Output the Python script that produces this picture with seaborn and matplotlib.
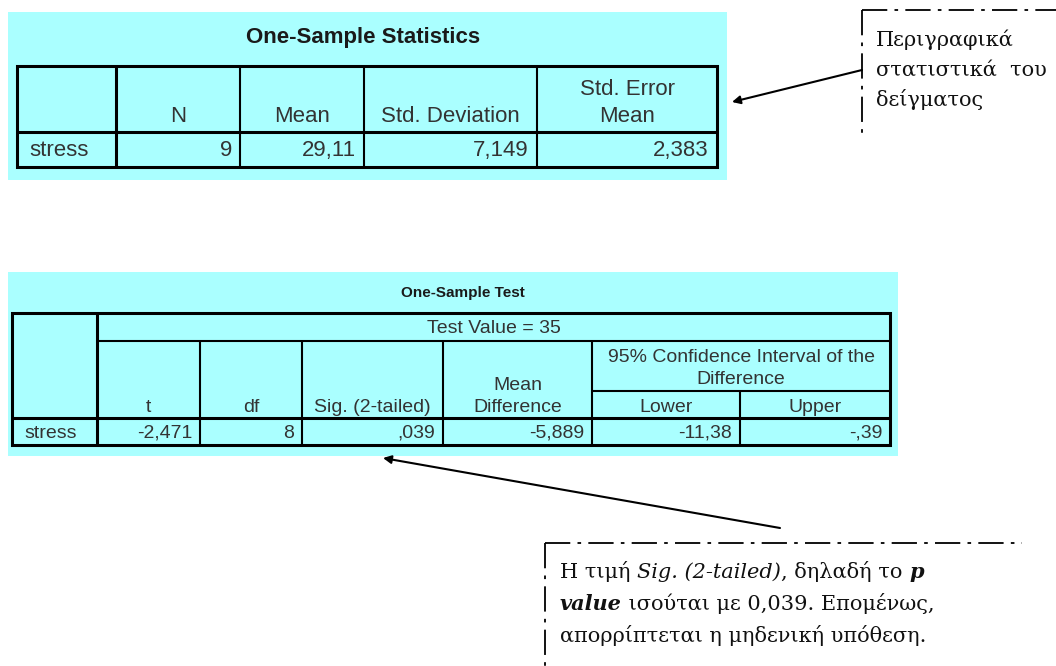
import matplotlib
matplotlib.use("Agg")
import matplotlib.pyplot as plt
import matplotlib.transforms as mtransforms
from matplotlib.patches import Rectangle
import seaborn as sns

# ---------------- data ----------------
stats_title = "One-Sample Statistics"
stats_headers = ["N", "Mean", "Std. Deviation", "Std. Error\nMean"]
stats_row_label = "stress"
stats_values = ["9", "29,11", "7,149", "2,383"]

test_title = "One-Sample Test"
test_value_label = "Test Value = 35"
test_headers = ["t", "df", "Sig. (2-tailed)", "Mean\nDifference"]
ci_header = "95% Confidence Interval of the\nDifference"
ci_subheaders = ["Lower", "Upper"]
test_row_label = "stress"
test_values = ["-2,471", "8", ",039", "-5,889", "-11,38", "-,39"]

note1_lines = ["Περιγραφικά", "στατιστικά  του", "δείγματος"]
note2_lines = [
    [("Η τιμή ", "normal", "normal"), ("Sig. (2-tailed)", "italic", "normal"),
     (", δηλαδή το ", "normal", "normal"), ("p", "italic", "bold")],
    [("value", "italic", "bold"), (" ισούται με 0,039. Επομένως,", "normal", "normal")],
    [("απορρίπτεται η μηδενική υπόθεση.", "normal", "normal")],
]

# ---------------- style ----------------
sns.set_theme(style="white")
SANS = ["Liberation Sans", "DejaVu Sans"]
SERIF = ["DejaVu Serif", "Liberation Serif"]
plt.rcParams["font.family"] = SANS

CYAN = "#AAFFFF"
TXT = "#333333"

fig = plt.figure(figsize=(10.56, 6.66), dpi=100)
fig.patch.set_facecolor("white")
ax = fig.add_axes([0, 0, 1, 1])
ax.set_xlim(0, 1056)
ax.set_ylim(666, 0)
ax.axis("off")

THICK = 2.2
MED = 1.5


def hline(y, x0, x1, lw=MED):
    ax.plot([x0, x1], [y, y], color="black", lw=lw, solid_capstyle="butt")


def vline(x, y0, y1, lw=MED):
    ax.plot([x, x], [y0, y1], color="black", lw=lw, solid_capstyle="butt")


def stacked(cx, y_last, label, gap, size):
    lines = label.split("\n")
    n = len(lines)
    for k, s in enumerate(lines):
        ax.text(cx, y_last - gap * (n - 1 - k), s, ha="center", va="baseline",
                fontsize=size, family=SANS, color=TXT)


# ---------------- table 1 ----------------
F1 = 16
ax.add_patch(Rectangle((8, 12), 719, 168, facecolor=CYAN, edgecolor="none"))
ax.text(363, 43, stats_title, ha="center", va="baseline", fontsize=F1,
        fontweight="bold", family=SANS, color="#1a1a1a")
L, R, T, B = 17, 717, 66, 167
mid = 132
cols1 = [L, 116, 240, 364, 537, R]
ax.add_patch(Rectangle((L, T), R - L, B - T, fill=False, edgecolor="black", lw=THICK))
hline(mid, L, R, THICK)
for i, x in enumerate(cols1[1:-1]):
    vline(x, T, B, THICK if i == 0 else MED)
for i, h in enumerate(stats_headers):
    cx = (cols1[i + 1] + cols1[i + 2]) / 2
    stacked(cx, 122, h, 27, F1)
ax.text(L + 12, 156, stats_row_label, ha="left", va="baseline",
        fontsize=F1, family=SANS, color=TXT)
for i, v in enumerate(stats_values):
    ax.text(cols1[i + 2] - 8, 156, v, ha="right", va="baseline",
            fontsize=F1, family=SANS, color=TXT)

# ---------------- table 2 ----------------
F2 = 14
ax.add_patch(Rectangle((8, 272), 890, 184, facecolor=CYAN, edgecolor="none"))
ax.text(463, 297, test_title, ha="center", va="baseline", fontsize=11,
        fontweight="bold", family=SANS, color="#1a1a1a")
L2, R2, T2, B2 = 12, 890, 313, 445
r_tv, r_ci, r_hd = 341, 391, 418
cols2 = [L2, 97, 200, 302, 443, 592, 740, R2]
ax.add_patch(Rectangle((L2, T2), R2 - L2, B2 - T2, fill=False, edgecolor="black", lw=THICK))
vline(97, T2, B2, THICK)
hline(r_hd, L2, R2, THICK)
hline(r_tv, 97, R2)
hline(r_ci, 592, R2)
for x in [200, 302, 443, 592]:
    vline(x, r_tv, B2)
vline(740, r_ci, B2)

ax.text((97 + R2) / 2, 333, test_value_label, ha="center", va="baseline",
        fontsize=F2, family=SANS, color=TXT)
for i, h in enumerate(test_headers):
    cx = (cols2[i + 1] + cols2[i + 2]) / 2
    stacked(cx, 412, h, 22, F2)
stacked((592 + R2) / 2, 384, ci_header, 22, F2)
for i, h in enumerate(ci_subheaders):
    cx = (cols2[i + 5] + cols2[i + 6]) / 2
    stacked(cx, 412, h, 22, F2)
ax.text(L2 + 12, 438, test_row_label, ha="left", va="baseline",
        fontsize=F2, family=SANS, color=TXT)
for i, v in enumerate(test_values):
    ax.text(cols2[i + 2] - 8, 438, v, ha="right", va="baseline",
            fontsize=F2, family=SANS, color=TXT)

# ---------------- annotation 1 ----------------
FS = 15
DASHDOT = (0, (14, 4, 2, 4))
ax.plot([862, 1056], [10, 10], color="black", lw=1.3, linestyle=DASHDOT)
ax.plot([862, 862], [10, 140], color="black", lw=1.3, linestyle=DASHDOT)
for i, line in enumerate(note1_lines):
    ax.text(876, 46 + 30 * i, line, ha="left", va="baseline", fontsize=FS,
            family=SERIF, color="#111111")
ax.annotate("", xy=(732, 102), xytext=(862, 70),
            arrowprops=dict(arrowstyle="-|>", color="black", lw=1.5,
                            mutation_scale=12, shrinkA=0, shrinkB=0))

# ---------------- annotation 2 ----------------
ax.plot([545, 1022], [543, 543], color="black", lw=1.3, linestyle=DASHDOT)
ax.plot([545, 545], [543, 666], color="black", lw=1.3, linestyle=DASHDOT)
ax.annotate("", xy=(383, 458), xytext=(780, 528),
            arrowprops=dict(arrowstyle="-|>", color="black", lw=1.5,
                            mutation_scale=12, shrinkA=0, shrinkB=0))

renderer = fig.canvas.get_renderer()
for i, parts in enumerate(note2_lines):
    tr = ax.transData
    for s, style, weight in parts:
        txt = ax.text(560, 578 + 32 * i, s, ha="left", va="baseline", fontsize=FS,
                      family=SERIF, style=style, fontweight=weight,
                      color="#111111", transform=tr)
        ex = txt.get_window_extent(renderer)
        tr = mtransforms.offset_copy(txt.get_transform(), x=ex.width, units="dots")

fig.savefig("out.png", dpi=100)
